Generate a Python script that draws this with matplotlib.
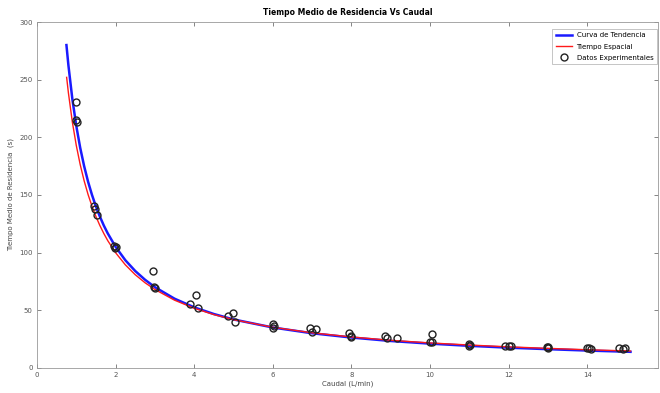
import matplotlib.pyplot as plt

# Datos experimentales: caudal (L/min) y tiempo medio de residencia (s)
caudal_exp = [1.0, 1.0, 1.02,
              1.46, 1.48, 1.52,
              1.96, 1.98, 2.0,
              2.94, 2.97, 3.0,
              3.9, 4.05, 4.1,
              4.85, 5.0, 5.05,
              6.0, 6.02, 6.0,
              6.95, 7.1, 7.0,
              7.95, 8.0, 7.98,
              8.85, 8.9, 9.15,
              10.05, 10.05, 10.0,
              11.0, 11.0, 11.02,
              11.9, 12.0, 12.05,
              13.0, 13.0, 12.98,
              14.05, 14.1, 14.0,
              14.8, 14.95, 14.9]
tiempo_exp = [231, 215, 213,
              140, 138, 133,
              106, 104, 105,
              84, 70, 69,
              55, 63, 52,
              45, 48, 40,
              38, 36, 35,
              35, 34, 31,
              30, 28, 27,
              28, 26, 26,
              29, 22, 22,
              21, 19, 20,
              19, 19, 19,
              18, 17, 18,
              17, 16.5, 17,
              17, 17, 16.5]

# Curva de tendencia (ajuste)
q_tendencia = [0.75, 0.8, 0.9, 1.0, 1.1, 1.2, 1.3, 1.4, 1.5, 1.6, 1.7, 1.8,
               2.0, 2.25, 2.5, 2.75, 3.0, 3.5, 4.0, 4.5, 5.0, 6.0, 7.0, 8.0,
               9.0, 10.0, 11.0, 12.0, 13.0, 14.0, 15.1]
t_tendencia = [280, 262.5, 233.3, 210, 190.9, 175, 161.5, 150, 140, 131.3,
               123.5, 116.7, 105, 93.3, 84, 76.4, 70, 60, 52.5, 46.7, 42,
               35, 30, 26.3, 23.3, 21, 19.1, 17.5, 16.2, 15, 13.9]

# Tiempo espacial
q_espacial = [0.755, 0.8, 0.9, 1.0, 1.1, 1.2, 1.3, 1.4, 1.5, 1.6, 1.7, 1.8,
              2.0, 2.25, 2.5, 2.75, 3.0, 3.5, 4.0, 4.5, 5.0, 6.0, 7.0, 8.0,
              9.0, 10.0, 11.0, 12.0, 13.0, 14.0, 15.1]
t_espacial = [252, 238.5, 213.3, 193, 176.3, 162.3, 150.4, 140.2, 131.3,
              123.5, 116.6, 110.4, 99.9, 89.3, 80.8, 73.8, 68, 58.7, 51.7,
              46.2, 41.8, 35.2, 30.4, 26.8, 23.9, 21.6, 19.8, 18.2, 16.9,
              15.7, 14.6]

x_ticks = [0, 2, 4, 6, 8, 10, 12, 14]
y_ticks = [0, 50, 100, 150, 200, 250, 300]

fig = plt.figure(figsize=(6.6, 3.93), dpi=100)
ax = fig.add_axes([0.056, 0.064, 0.941, 0.88])

ax.plot(q_tendencia, t_tendencia, color='#1a1aff', linewidth=1.8,
        label='Curva de Tendencia')
ax.plot(q_espacial, t_espacial, color='#ff1a1a', linewidth=1.0,
        label='Tiempo Espacial')
ax.plot(caudal_exp, tiempo_exp, linestyle='none', marker='o', markersize=5,
        markerfacecolor='none', markeredgecolor='#222222', markeredgewidth=1.0,
        label='Datos Experimentales')

ax.set_xlim(0, 15.8)
ax.set_ylim(0, 300)
ax.set_xticks(x_ticks)
ax.set_yticks(y_ticks)
ax.tick_params(direction='in', length=3, width=0.5, labelsize=5,
               colors='#555555', top=True, right=True, pad=3)
for side in ax.spines.values():
    side.set_color('#999999')
    side.set_linewidth(0.6)

ax.set_title('Tiempo Medio de Residencia Vs Caudal', fontsize=5.5,
             fontweight='bold', pad=5)
ax.set_xlabel('Caudal (L/min)', fontsize=5, color='#444444', labelpad=2)
ax.set_ylabel('Tiempo Medio de Residencia  (s)', fontsize=5, color='#444444',
              labelpad=4)

leg = ax.legend(loc='upper right', bbox_to_anchor=(0.998, 0.98), fontsize=5,
                frameon=True, fancybox=False, borderpad=0.5,
                handlelength=2.4, handletextpad=0.6, labelspacing=0.75,
                borderaxespad=0.0)
leg.get_frame().set_edgecolor('#aaaaaa')
leg.get_frame().set_linewidth(0.6)

fig.savefig('out.png', dpi=100)
